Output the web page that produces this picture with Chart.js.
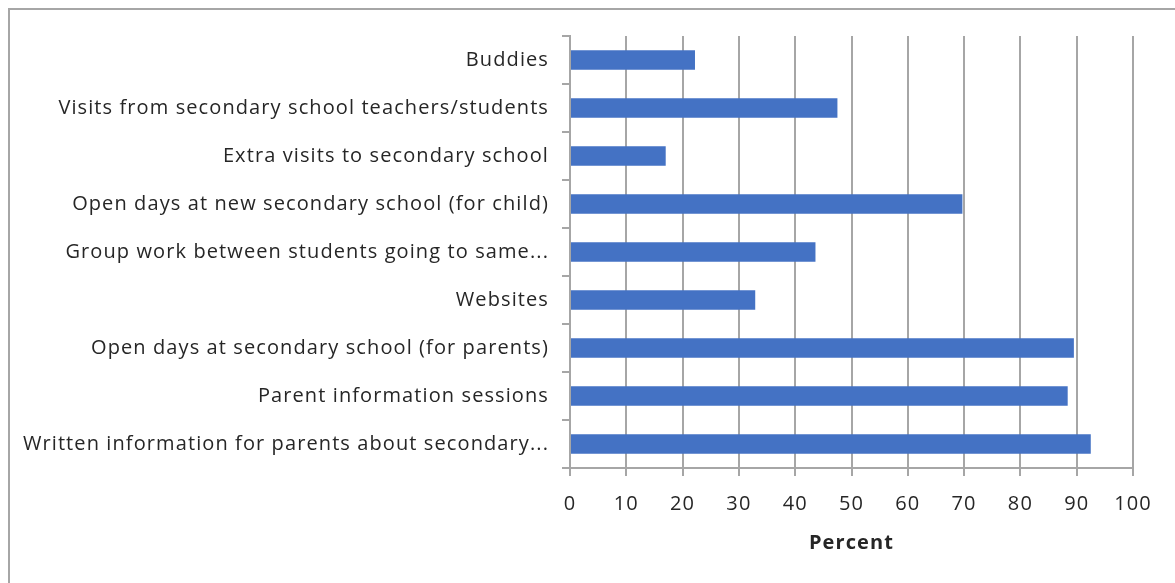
<!DOCTYPE html>
<html lang="en">
<head>
    <meta charset="UTF-8">
    <title>Transition activities</title>
    <script src="https://cdn.jsdelivr.net/npm/chart.js@4.4.0/dist/chart.umd.min.js"></script>
    <style>
        body { margin: 0; background: #fff; }
        #frame { position: absolute; left: 8px; top: 8px; width: 1180px; height: 600px; border: 2px solid #a6a6a6; }
        #wrap { position: absolute; left: 0; top: 0; width: 1175px; height: 583px; }
    </style>
</head>
<body>
    <div id="frame"></div>
    <div id="wrap"><canvas id="chart" width="1175" height="583"></canvas></div>
    <script>
        // categories top to bottom, as in the picture
        const categories = [
            'Buddies',
            'Visits from secondary school teachers/students',
            'Extra visits to secondary school',
            'Open days at new secondary school (for child)',
            'Group work between students going to same...',
            'Websites',
            'Open days at secondary school (for parents)',
            'Parent information sessions',
            'Written information for parents about secondary...'
        ];
        const percents = [22.2, 47.5, 17.0, 69.7, 43.6, 32.9, 89.5, 88.4, 92.5];
        const xTicks = [0, 10, 20, 30, 40, 50, 60, 70, 80, 90, 100];

        const gridCol = '#a6a6a6';
        const textCol = '#262626';

        // the original text is set a bit wide, a small letterSpacing gets close
        const spacing = {
            id: 'spacing',
            beforeUpdate: c => { c.ctx.letterSpacing = '1.1px'; },
            beforeDraw: c => { c.ctx.letterSpacing = '1.1px'; }
        };

        const ctx = document.getElementById('chart').getContext('2d');
        const myChart = new Chart(ctx, {
            type: 'bar',
            data: {
                labels: categories,
                datasets: [{
                    label: 'Percent',
                    data: percents,
                    backgroundColor: '#4472c4',
                    borderWidth: 0,
                    barPercentage: 0.41,
                    categoryPercentage: 1.0
                }]
            },
            plugins: [spacing],
            options: {
                indexAxis: 'y',
                responsive: false,
                animation: false,
                layout: { padding: { left: 10, right: 42, top: 36, bottom: 0 } },
                plugins: {
                    legend: { display: false },
                    tooltip: { enabled: false }
                },
                scales: {
                    x: {
                        min: 0,
                        max: 100,
                        afterBuildTicks: s => { s.ticks = xTicks.map(v => ({ value: v })); },
                        afterFit: s => { s.height = 115; },
                        grid: { color: gridCol, lineWidth: 2, tickLength: 8, drawTicks: true },
                        border: { color: gridCol, width: 2 },
                        ticks: { color: textCol, padding: 16, font: { family: 'Open Sans', size: 20 } },
                        title: {
                            display: true,
                            text: 'Percent',
                            color: textCol,
                            padding: { top: 0, bottom: 28 },
                            font: { family: 'Open Sans', size: 20, weight: 'bold' }
                        }
                    },
                    y: {
                        afterFit: s => { s.width = 560; },
                        grid: { offset: true, drawOnChartArea: false, color: gridCol, lineWidth: 2, tickLength: 8 },
                        border: { color: gridCol, width: 2 },
                        ticks: { color: textCol, padding: 13, font: { family: 'Open Sans', size: 20 } }
                    }
                }
            }
        });
    </script>
</body>
</html>
